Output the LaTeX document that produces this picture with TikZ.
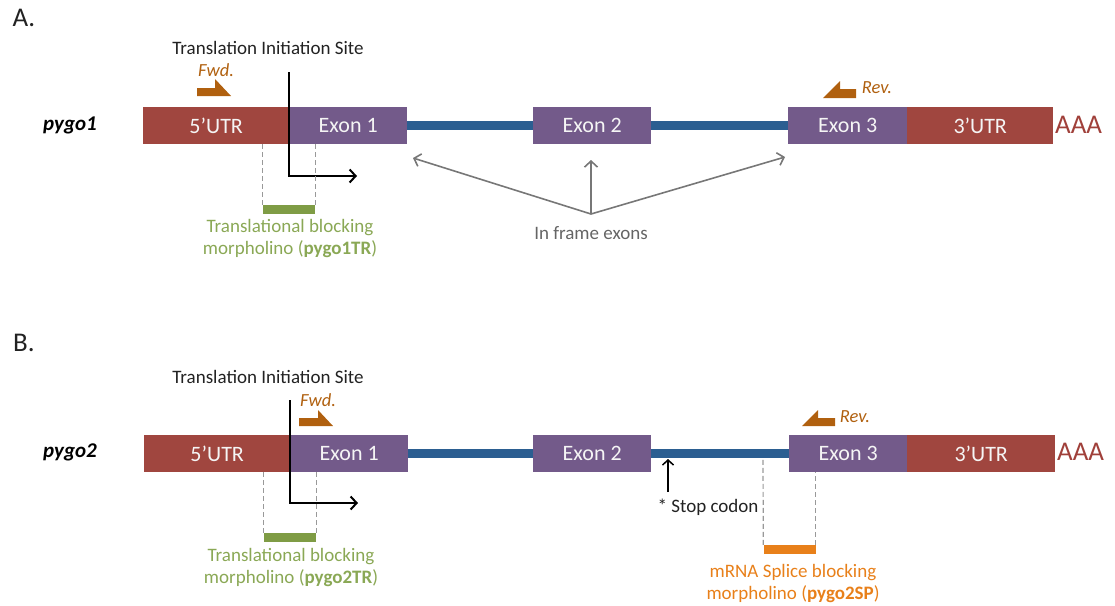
\documentclass[tikz,border=0pt]{standalone}
\usepackage{fontspec}
\setmainfont{Carlito}
\usetikzlibrary{arrows.meta}
\definecolor{utrred}{HTML}{A0463F}
\definecolor{exonpurple}{HTML}{735A8A}
\definecolor{intronblue}{HTML}{2B5E91}
\definecolor{primerbrown}{HTML}{B0600F}
\definecolor{morphgreen}{HTML}{7F9C45}
\definecolor{morphtext}{HTML}{8AA855}
\definecolor{morphorange}{HTML}{E8801A}
\definecolor{aaared}{HTML}{A0403A}
\definecolor{greyarrow}{HTML}{777777}
\definecolor{dashgrey}{HTML}{999999}
\definecolor{darktext}{HTML}{222222}
\tikzset{
  genebox/.style={inner sep=0pt, minimum height=37pt, anchor=north west,
    text=white!92!gray, font=\fontsize{22}{24}\selectfont},
  utrbox/.style={genebox, fill=utrred},
  exonbox/.style={genebox, fill=exonpurple},
  intron/.style={draw=intronblue, line width=9pt},
  aaa/.style={anchor=west, inner sep=0pt, text=aaared, font=\fontsize{27}{30}\selectfont},
  panellabel/.style={inner sep=0pt, text=darktext, font=\fontsize{27}{30}\selectfont},
  genelabel/.style={inner sep=0pt, text=black, font=\fontsize{21}{24}\selectfont\bfseries\itshape},
  plain/.style={inner sep=0pt, text=darktext, font=\fontsize{19}{22}\selectfont},
  primerlabel/.style={inner sep=0pt, text=primerbrown, font=\fontsize{18.5}{22}\selectfont\itshape},
  primer/.style={fill=primerbrown, draw=none},
  tis/.style={draw=black, line width=2pt, -{Straight Barb[length=6pt,width=13pt,line width=2pt]}},
  framearrow/.style={draw=greyarrow, line width=1.6pt, -{Straight Barb[length=6pt,width=13pt,line width=1.6pt]}},
  stoparrow/.style={draw=black, line width=1.5pt, -{Straight Barb[length=5pt,width=11pt,line width=1.5pt]}},
  guide/.style={draw=dashgrey, line width=1.2pt, dash pattern=on 5pt off 3pt},
  mobar/.style={inner sep=0pt, minimum width=52pt, minimum height=9pt, draw=none},
  motext/.style={inner sep=0pt, align=center, font=\fontsize{19}{22}\selectfont}
}
\begin{document}
\begin{tikzpicture}[x=1pt,y=-1pt]
\useasboundingbox (0,0) rectangle (1115,605);
% ================= Panel A =================
\node[panellabel] (labA) at (24,18) {A.};
\node[genelabel] (geneA) at (70,125) {pygo1};
\node[utrbox, minimum width=146pt] (utr5A) at (143,107) {5’UTR};
\node[exonbox, minimum width=118pt] (ex1A) at (289,107) {Exon 1};
\node[exonbox, minimum width=118pt] (ex2A) at (533,107) {Exon 2};
\node[exonbox, minimum width=119pt] (ex3A) at (788,107) {Exon 3};
\node[utrbox, minimum width=146pt] (utr3A) at (907,107) {3’UTR};
\node[aaa] (aaaA) at (1055,125) {AAA};
\draw[intron] (ex1A.east) -- (ex2A.west);
\draw[intron] (ex2A.east) -- (ex3A.west);
% translation initiation site
\node[plain] (tisLabA) at (268,48) {Translation Initiation Site};
\coordinate (tisTopA) at (289,72);
\coordinate (tisEndA) at (357,176);
\draw[tis] (tisTopA) |- (tisEndA);
% primers
\node[primerlabel] (fwdLabA) at (216,70) {Fwd.};
\draw[primer] (197,88) -- (215,88) -- (215,79) -- (231,96) -- (197,96) -- cycle;
\node[primerlabel] (revLabA) at (877,88) {Rev.};
\draw[primer] (856,89) -- (840,89) -- (840,81) -- (823,98) -- (856,98) -- cycle;
% morpholino
\node[mobar, fill=morphgreen] (moA) at (289,209.5) {};
\draw[guide] (moA.north west) -- (moA.north west |- utr5A.south);
\draw[guide] (moA.north east) -- (moA.north east |- utr5A.south);
\node[motext, text=morphtext] (moTextA) at (290,239) {Translational blocking\\morpholino (\textbf{pygo1TR})};
% in frame exons
\node[plain, text=greyarrow!85!black] (inframe) at (591,233) {In frame exons};
\coordinate (ifSrc) at (591,214);
\coordinate (ifT1) at (413,158);
\coordinate (ifT2) at (591,160);
\coordinate (ifT3) at (785,157);
\draw[framearrow] (ifSrc) -- (ifT1);
\draw[framearrow] (ifSrc) -- (ifT2);
\draw[framearrow] (ifSrc) -- (ifT3);
% ================= Panel B =================
\node[panellabel] (labB) at (24,343) {B.};
\node[genelabel] (geneB) at (70,452) {pygo2};
\node[utrbox, minimum width=146pt] (utr5B) at (144,435) {5’UTR};
\node[exonbox, minimum width=118pt] (ex1B) at (290,435) {Exon 1};
\node[exonbox, minimum width=118pt] (ex2B) at (533,435) {Exon 2};
\node[exonbox, minimum width=118pt] (ex3B) at (789,435) {Exon 3};
\node[utrbox, minimum width=148pt] (utr3B) at (907,435) {3’UTR};
\node[aaa] (aaaB) at (1057,452) {AAA};
\draw[intron] (ex1B.east) -- (ex2B.west);
\draw[intron] (ex2B.east) -- (ex3B.west);
% translation initiation site
\node[plain] (tisLabB) at (268,377) {Translation Initiation Site};
\coordinate (tisTopB) at (290,400);
\coordinate (tisEndB) at (358,503);
\draw[tis] (tisTopB) |- (tisEndB);
% primers
\node[primerlabel] (fwdLabB) at (318,400) {Fwd.};
\draw[primer] (299,418) -- (318,418) -- (318,410) -- (333,426) -- (299,426) -- cycle;
\node[primerlabel] (revLabB) at (855,417) {Rev.};
\draw[primer] (835,418) -- (818,418) -- (818,410) -- (802,426) -- (835,426) -- cycle;
% translational morpholino
\node[mobar, fill=morphgreen] (moB) at (290,537.5) {};
\draw[guide] (moB.north west) -- (moB.north west |- utr5B.south);
\draw[guide] (moB.north east) -- (moB.north east |- utr5B.south);
\node[motext, text=morphtext] (moTextB) at (291,567.5) {Translational blocking\\morpholino (\textbf{pygo2TR})};
% stop codon
\node[plain] (stop) at (708,507) {* Stop codon};
\coordinate (stopBase) at (668,492);
\coordinate (stopTip) at (668,459);
\draw[stoparrow] (stopBase) -- (stopTip);
% splice morpholino
\node[mobar, fill=morphorange] (moS) at (789.5,549.5) {};
\coordinate (intronBot) at (763,458);
\draw[guide] (moS.north west) -- (intronBot);
\draw[guide] (moS.north east) -- (moS.north east |- ex3B.south);
\node[motext, text=morphorange] (moTextS) at (793,584) {mRNA Splice blocking\\morpholino (\textbf{pygo2SP})};
\end{tikzpicture}
\end{document}
